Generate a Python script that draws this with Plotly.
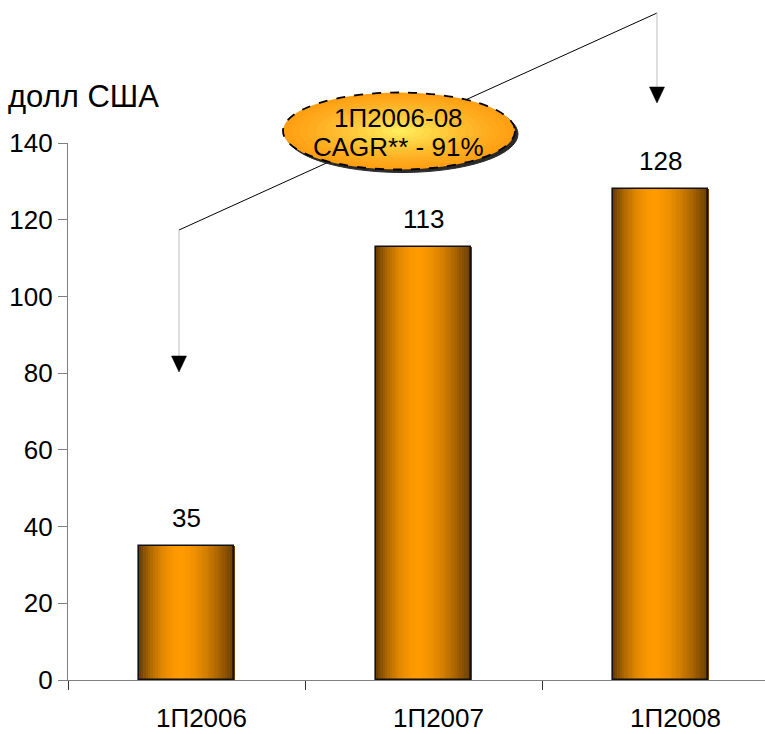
import plotly.graph_objects as go

# Data
categories = ["1П2006", "1П2007", "1П2008"]
values = [35, 113, 128]
y_ticks = [0, 20, 40, 60, 80, 100, 120, 140]
unit_label = "долл США"
cagr_lines = ["1П2006-08", "CAGR** - 91%"]

W, H = 765, 734
# plot area in pixels
PL, PR, PT, PB = 68, 765, 143, 680
FONT = "Liberation Sans, Arial, sans-serif"


def px(x):
    return (x - PL) / (PR - PL)


def py(y):
    return (PB - y) / (PB - PT)


def lerp(a, b, t):
    return tuple(int(round(a[i] + (b[i] - a[i]) * t)) for i in range(3))


EDGE = (100, 58, 0)
PEAK = (255, 154, 0)


def bar_color(t):
    # horizontal cylinder-like shading: dark edges, bright orange just left of centre
    c = 0.45
    if t < c:
        s = (t / c)
        s = 1 - (1 - s) ** 2
    else:
        s = (1 - t) / (1 - c)
        s = 1 - (1 - s) ** 1.6
    return "rgb(%d,%d,%d)" % lerp(EDGE, PEAK, s)


fig = go.Figure()

xs = list(range(len(categories)))
bar_w = 0.405
N = 40
for i in range(N):
    t = (i + 0.5) / N
    fig.add_trace(go.Bar(
        x=xs, y=values,
        width=bar_w / N * 1.15,
        offset=-bar_w / 2 + i * bar_w / N - bar_w / N * 0.075,
        marker=dict(color=bar_color(t), line=dict(width=0)),
        hoverinfo="skip", showlegend=False,
    ))

# bar outlines
fig.add_trace(go.Bar(
    x=xs, y=values, width=bar_w,
    marker=dict(color="rgba(0,0,0,0)", line=dict(color="#111111", width=1.6)),
    showlegend=False,
))

# value labels above bars
for xi, v in zip(xs, values):
    fig.add_annotation(x=xi, y=v, text=str(v), showarrow=False,
                       yanchor="bottom", yshift=11,
                       font=dict(family=FONT, size=26, color="#000000"))

shapes = []
# connector line across the chart
x_l, y_l = 179, 230
x_r, y_r = 657, 13
shapes.append(dict(type="line", xref="paper", yref="paper",
                   x0=px(x_l), y0=py(y_l), x1=px(x_r), y1=py(y_r),
                   line=dict(color="#000000", width=1)))
# drop lines
shapes.append(dict(type="line", xref="paper", yref="paper",
                   x0=px(x_l), y0=py(y_l), x1=px(x_l), y1=py(357),
                   line=dict(color="#c8c8c8", width=1.2)))
shapes.append(dict(type="line", xref="paper", yref="paper",
                   x0=px(x_r), y0=py(y_r), x1=px(x_r), y1=py(88),
                   line=dict(color="#c8c8c8", width=1.2)))


def tri(cx, top, w=15, h=16):
    return ("M %f %f L %f %f L %f %f Z" % (
        px(cx - w / 2), py(top), px(cx + w / 2), py(top), px(cx), py(top + h)))


for cx, top in [(x_l, 356), (x_r, 87)]:
    shapes.append(dict(type="path", xref="paper", yref="paper", path=tri(cx, top),
                       fillcolor="#000000", line=dict(color="#000000", width=0.5)))

# ellipse callout
ecx, ecy, erx, ery = 399, 131, 116, 38.5
shapes.append(dict(type="circle", xref="paper", yref="paper",
                   x0=px(ecx - erx + 3), x1=px(ecx + erx + 3),
                   y0=py(ecy + ery + 3), y1=py(ecy - ery + 3),
                   fillcolor="#2a2a2a", line=dict(color="#2a2a2a", width=1)))
outer = (255, 160, 20)
inner = (255, 236, 90)
M = 14
for k in range(M):
    f = 1 - k / M
    t = (k / (M - 1)) ** 1.2
    col = "rgb(%d,%d,%d)" % lerp(outer, inner, t)
    shapes.append(dict(type="circle", xref="paper", yref="paper",
                       x0=px(ecx - erx * f), x1=px(ecx + erx * f),
                       y0=py(ecy + ery * f), y1=py(ecy - ery * f),
                       fillcolor=col, line=dict(width=0)))
shapes.append(dict(type="circle", xref="paper", yref="paper",
                   x0=px(ecx - erx), x1=px(ecx + erx),
                   y0=py(ecy + ery), y1=py(ecy - ery),
                   fillcolor="rgba(0,0,0,0)",
                   line=dict(color="#000000", width=1.8, dash="dash")))

fig.update_layout(shapes=shapes)

for line_text, yc in zip(cagr_lines, [118, 147]):
    fig.add_annotation(xref="paper", yref="paper", x=px(398), y=py(yc),
                       text=line_text, showarrow=False,
                       xanchor="center", yanchor="middle",
                       font=dict(family=FONT, size=26, color="#000000"))

fig.add_annotation(xref="paper", yref="paper", x=px(6), y=py(96),
                   text=unit_label, showarrow=False,
                   xanchor="left", yanchor="middle",
                   font=dict(family=FONT, size=31, color="#000000"))

fig.update_layout(
    width=W, height=H,
    margin=dict(l=PL, r=W - PR, t=PT, b=H - PB, pad=0, autoexpand=False),
    paper_bgcolor="white", plot_bgcolor="white",
    barmode="overlay", bargap=0,
    font=dict(family=FONT, size=26, color="#000000"),
    xaxis=dict(
        range=[-0.5, -0.5 + (PR - PL) / 237.0],
        tickmode="array", tickvals=xs, ticktext=categories,
        ticks="", showgrid=False, zeroline=False,
        showline=True, linecolor="#808080", linewidth=1.2,
        ticklabelstandoff=15, ticklabelshift=15, automargin=False,
        minor=dict(tickmode="array", tickvals=[-0.5, 0.5, 1.5], ticks="outside",
                   ticklen=9, tickcolor="#333333", tickwidth=1.2, showgrid=False),
        fixedrange=True,
    ),
    yaxis=dict(
        range=[0, 140], tickmode="array", tickvals=y_ticks,
        ticks="outside", ticklen=9, tickcolor="#808080", tickwidth=1.2,
        showline=True, linecolor="#808080", linewidth=1.2, automargin=False,
        showgrid=False, zeroline=False, fixedrange=True,
    ),
)

fig.write_html("out.html")
